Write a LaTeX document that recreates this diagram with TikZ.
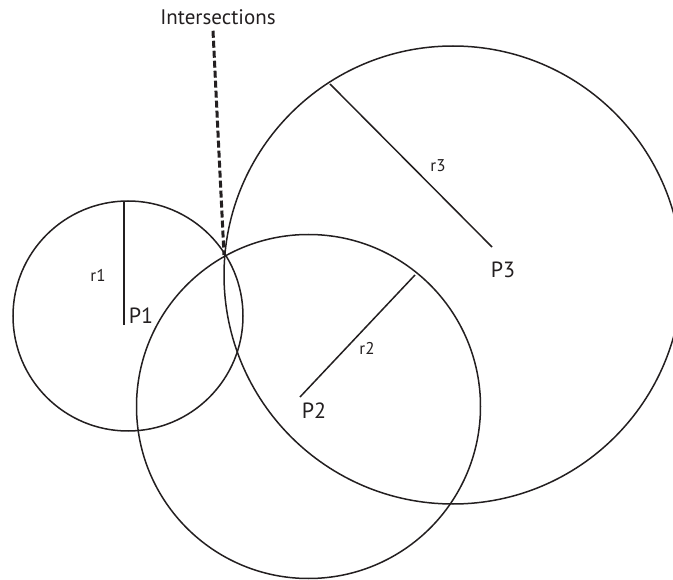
\documentclass[tikz,border=0pt]{standalone}
\usepackage{fontspec}
\setmainfont{PT Sans}
\definecolor{ink}{HTML}{231F20}
\tikzset{
    ring/.style={draw=ink, line width=1.5pt},
    radius line/.style={draw=ink, line width=1.5pt},
    biglabel/.style={text=ink, font=\fontsize{22}{24}\selectfont, inner sep=0pt},
    smalllabel/.style={text=ink, font=\fontsize{17}{19}\selectfont, inner sep=0pt},
    hint/.style={draw=ink, line width=3pt, dash pattern=on 7pt off 3pt}
}
\begin{document}
\begin{tikzpicture}[x=1pt,y=-1pt]
        % frame
            \clip (0,0) rectangle (673,580);
        % circles
            \foreach \c/\x/\y/\r in {c1/128/316/115, c2/308.5/406.5/172, c3/453/275/229}{
                \coordinate (\c) at (\x,\y);
                \draw[ring] (\c) circle [radius=\r pt];
            }
        % radii
            \foreach \v/\a/\b/\e/\f in {1/124/202/124/325, 2/415/275/300/397, 3/330/84/492/247}{
                \coordinate (s\v) at (\a,\b);
                \coordinate (p\v) at (\e,\f);
                \draw[radius line] (s\v) -- (p\v);
            }
        % labels
            \node[biglabel] (P1) at (141,316) {P1};
            \node[biglabel] (P2) at (314,411) {P2};
            \node[biglabel] (P3) at (503,270) {P3};
            \node[smalllabel] (r1) at (98,275) {r1};
            \node[smalllabel] (r2) at (367,348) {r2};
            \node[smalllabel] (r3) at (438,166) {r3};
        % intersections
            \coordinate (x) at (224,255);
            \node[text=ink, font=\fontsize{21}{23}\selectfont, inner sep=0pt] (ints) at (218,17) {Intersections};
            \draw[hint] ([yshift=-6pt]ints.south -| 213,0) -- (x);
\end{tikzpicture}
\end{document}
